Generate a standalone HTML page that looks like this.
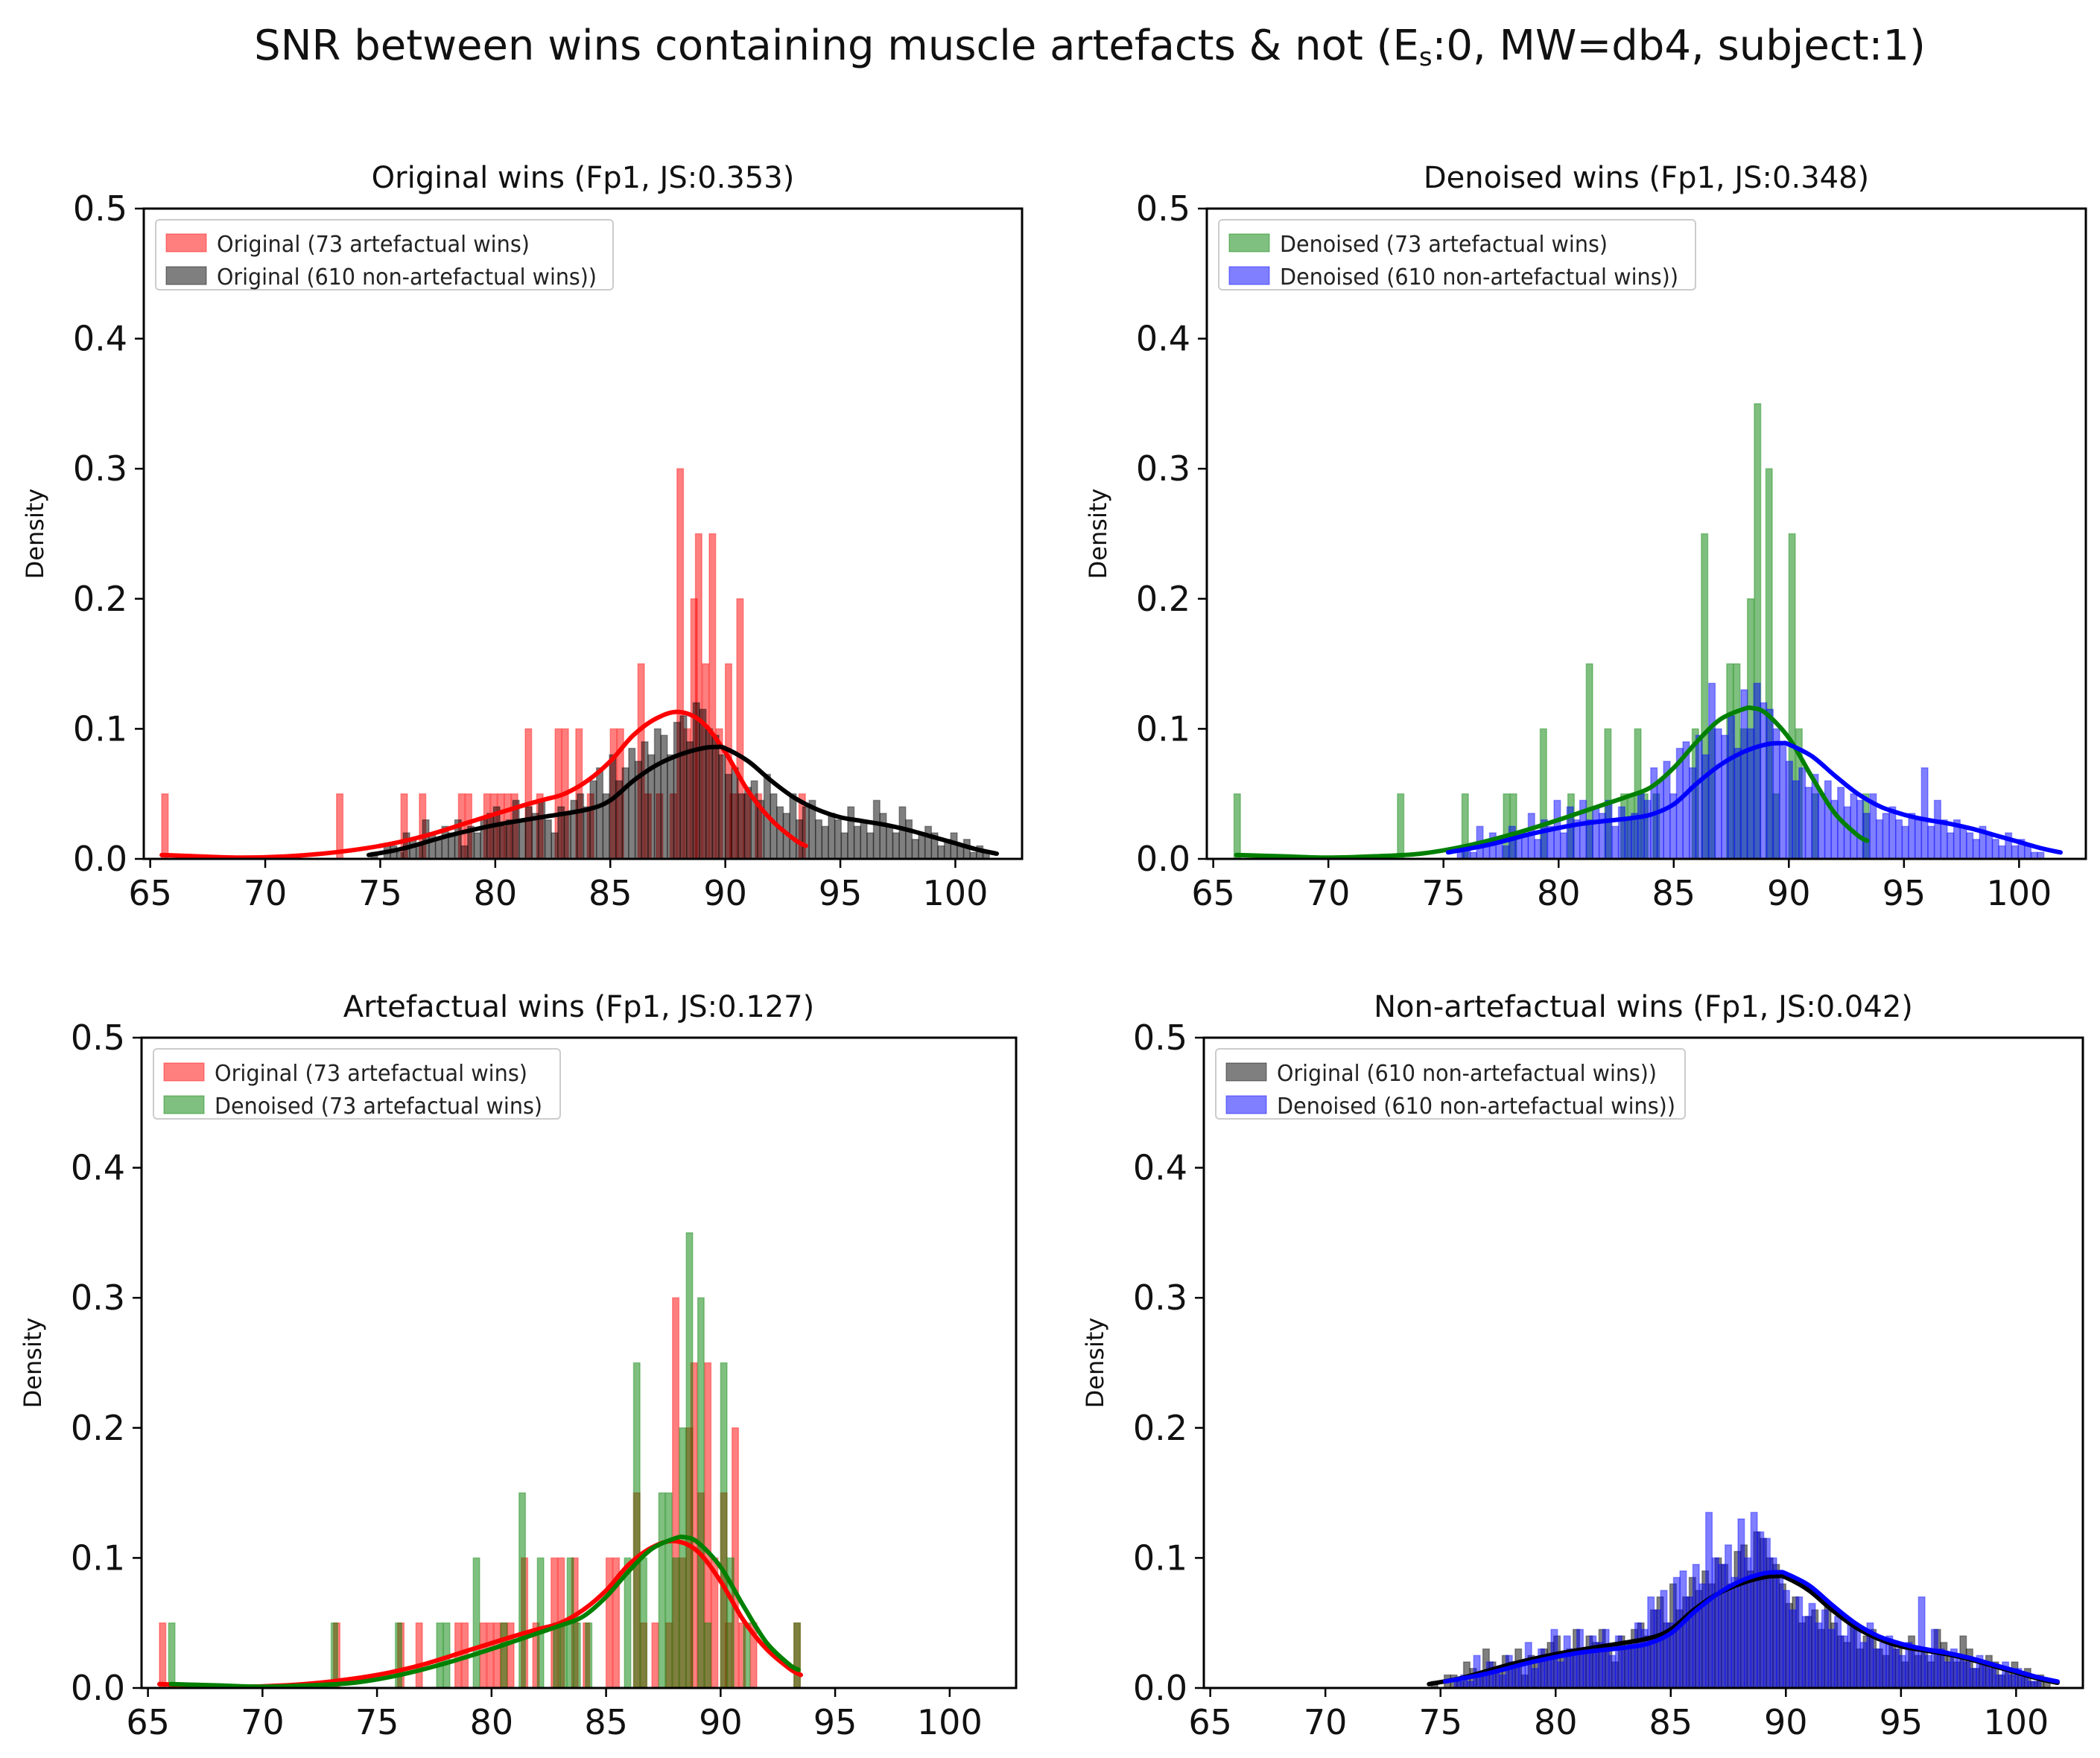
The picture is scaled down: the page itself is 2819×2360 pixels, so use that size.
<!DOCTYPE html>
<html><head><meta charset="utf-8">
<style>
html,body{margin:0;padding:0;background:#fff;}
svg{display:block;font-family:"DejaVu Sans","Liberation Sans",sans-serif;}
</style></head>
<body>
<svg id="fig" width="2819" height="2360" viewBox="0 0 2819 2360" xmlns="http://www.w3.org/2000/svg">
<rect width="2819" height="2360" fill="#fff"/>
<text x="1463" y="80" font-size="56" text-anchor="middle" fill="#111">SNR between wins containing muscle artefacts &amp; not (E<tspan font-size="34" dy="8">s</tspan><tspan dy="-8">:0, MW=db4, subject:1)</tspan></text>
</svg>
<script>
// ---- data ----
const xTicks = [65,70,75,80,85,90,95,100];
const yTicks = [0.0,0.1,0.2,0.3,0.4,0.5];
const binWidth = 0.28;
const origArtX = [65.5,73.1,75.9,76.7,78.4,78.7,79.5,79.8,80.1,80.4,80.7,81.3,81.8,82.6,82.9,83.5,84.0,85.0,85.3,86.2,86.5,87.0,87.6,87.9,88.2,88.5,88.7,89.0,89.3,89.6,90.0,90.2,90.5,90.8,91.3,93.2];
const origArtY = [0.05,0.05,0.05,0.05,0.05,0.05,0.05,0.05,0.05,0.05,0.05,0.1,0.05,0.1,0.1,0.1,0.05,0.1,0.1,0.15,0.05,0.05,0.05,0.3,0.1,0.2,0.25,0.15,0.25,0.1,0.15,0.05,0.2,0.05,0.05,0.05];
const denArtX = [65.9,73.0,75.8,77.6,77.9,79.2,80.4,81.2,82.0,82.7,83.0,83.3,83.6,84.1,85.8,86.2,86.5,87.3,87.6,87.9,88.2,88.5,89.0,89.3,90.0,90.3,91.0,93.2];
const denArtY = [0.05,0.05,0.05,0.05,0.05,0.1,0.05,0.15,0.1,0.05,0.05,0.1,0.05,0.05,0.1,0.25,0.1,0.15,0.15,0.1,0.2,0.35,0.3,0.05,0.25,0.1,0.05,0.05];
const origNonStart = 74.6;
const origNonY = [0.005,0,0.01,0.01,0.005,0.02,0.015,0.01,0.03,0.02,0.015,0.025,0.02,0.03,0.01,0.025,0.02,0.03,0.035,0.04,0.025,0.03,0.045,0.03,0.04,0.035,0.045,0.03,0.02,0.04,0.035,0.045,0.05,0.04,0.06,0.07,0.05,0.08,0.06,0.07,0.085,0.075,0.09,0.08,0.1,0.095,0.08,0.105,0.11,0.09,0.12,0.115,0.1,0.095,0.08,0.065,0.07,0.05,0.055,0.06,0.045,0.065,0.05,0.04,0.035,0.05,0.03,0.04,0.045,0.03,0.025,0.035,0.03,0.02,0.04,0.025,0.03,0.02,0.045,0.035,0.025,0.02,0.04,0.03,0.015,0.02,0.025,0.02,0.01,0.015,0.02,0.01,0.015,0.005,0.01,0.005];
const denNonStart = 75.6;
const denNonY = [0.005,0.01,0.005,0.025,0.01,0.02,0.015,0.01,0.025,0.02,0.02,0.035,0.015,0.03,0.025,0.045,0.02,0.04,0.03,0.045,0.03,0.04,0.035,0.045,0.025,0.04,0.03,0.035,0.05,0.045,0.07,0.06,0.075,0.05,0.085,0.09,0.07,0.095,0.08,0.135,0.1,0.095,0.11,0.085,0.13,0.1,0.135,0.12,0.115,0.1,0.09,0.075,0.06,0.07,0.055,0.065,0.05,0.06,0.045,0.055,0.04,0.05,0.045,0.035,0.05,0.03,0.035,0.04,0.03,0.025,0.035,0.03,0.07,0.025,0.045,0.03,0.02,0.03,0.025,0.02,0.015,0.025,0.02,0.015,0.01,0.02,0.01,0.015,0.01,0.005,0.005];
const redKdeX = [65.5,67,69,71,73,75,77,79,81,82,83,84,85,86,87,88,89,90,91,92,93,93.5];
const redKdeY = [0.003,0.002,0.001,0.002,0.005,0.01,0.018,0.029,0.04,0.045,0.05,0.06,0.075,0.095,0.108,0.113,0.105,0.082,0.052,0.03,0.015,0.01];
const greenKdeX = [66,68,70,72,74,76,78,80,81,82,83,84,85,86,87,88,88.4,89,90,91,92,93,93.4];
const greenKdeY = [0.003,0.002,0.001,0.002,0.004,0.01,0.019,0.03,0.036,0.042,0.048,0.055,0.07,0.09,0.107,0.115,0.116,0.112,0.093,0.063,0.035,0.018,0.014];
const blackKdeX = [74.5,76,78,80,82,84,85,86,87,88,89,89.6,90,91,92,93,94,95,96,97,98,99,100,101,101.8];
const blackKdeY = [0.003,0.008,0.018,0.026,0.032,0.038,0.045,0.06,0.072,0.08,0.085,0.086,0.085,0.075,0.06,0.047,0.038,0.032,0.029,0.026,0.022,0.017,0.012,0.007,0.004];
const blueKdeX = [75.2,77,79,81,83,84,85,86,87,88,89,89.7,90,91,92,93,94,95,96,97,98,99,100,101,101.8];
const blueKdeY = [0.005,0.011,0.02,0.027,0.031,0.034,0.042,0.058,0.072,0.082,0.088,0.089,0.088,0.079,0.064,0.05,0.04,0.034,0.03,0.027,0.023,0.018,0.013,0.008,0.005];

const NS='http://www.w3.org/2000/svg';
const svg=document.getElementById('fig');
function mk(tag,attrs,parent){const e=document.createElementNS(NS,tag);for(const k in attrs)e.setAttribute(k,attrs[k]);(parent||svg).appendChild(e);return e;}

// smooth path through points (Catmull-Rom)
function smooth(pts){
  let d='M'+pts[0][0].toFixed(1)+','+pts[0][1].toFixed(1);
  for(let i=0;i<pts.length-1;i++){
    const p0=pts[Math.max(0,i-1)],p1=pts[i],p2=pts[i+1],p3=pts[Math.min(pts.length-1,i+2)];
    const c1x=p1[0]+(p2[0]-p0[0])/6,c1y=p1[1]+(p2[1]-p0[1])/6;
    const c2x=p2[0]-(p3[0]-p1[0])/6,c2y=p2[1]-(p3[1]-p1[1])/6;
    d+=` C${c1x.toFixed(1)},${c1y.toFixed(1)} ${c2x.toFixed(1)},${c2y.toFixed(1)} ${p2[0].toFixed(1)},${p2[1].toFixed(1)}`;
  }
  return d;
}

function panel(p){
  const g=mk('g',{});
  
  
  const xmin=64.72,xmax=102.9,ymax=0.5;
  const sx=v=>p.L+(v-xmin)/(xmax-xmin)*(p.R-p.L);
  const sy=v=>p.B-v/ymax*(p.B-p.T);
  p.hists.forEach(h=>{
    const hg=mk('g',{},g);
    
    
    const xs=h.x?h.x:h.y.map((_,i)=>h.start+i*binWidth);
    xs.forEach((x,i)=>{
      if(h.y[i]<=0)return;
      const r=mk('rect',{x:sx(x),y:sy(h.y[i]),width:sx(x+binWidth)-sx(x),height:sy(0)-sy(h.y[i]),fill:h.color,'fill-opacity':0.5,stroke:h.color,'stroke-opacity':0.35,'stroke-width':1.5},hg);
      
      
    });
  });
  p.kdes.forEach(k=>{
    const pts=k.x.map((x,i)=>[sx(x),sy(k.y[i])]);
    const pa=mk('path',{d:smooth(pts),fill:'none',stroke:k.color,'stroke-width':6,'stroke-linejoin':'round','stroke-linecap':'round'},g);
    
    
  });
  const fr=mk('rect',{x:p.L,y:p.T,width:p.R-p.L,height:p.B-p.T,fill:'none',stroke:'#000','stroke-width':3},g);
  
  
  xTicks.forEach(t=>{
    const x=sx(t);
    mk('line',{x1:x,x2:x,y1:p.B,y2:p.B+12,stroke:'#000','stroke-width':2.5},g);
    const tx=mk('text',{x:x,y:p.B+62,'font-size':46,'text-anchor':'middle',fill:'#111'},g);
    tx.textContent=String(t);
    
    
  });
  yTicks.forEach(t=>{
    const y=sy(t);
    mk('line',{x1:p.L-12,x2:p.L,y1:y,y2:y,stroke:'#000','stroke-width':2.5},g);
    const tx=mk('text',{x:p.L-22,y:y+16,'font-size':46,'text-anchor':'end',fill:'#111'},g);
    tx.textContent=t.toFixed(1);
    
    
  });
  const yl=mk('text',{x:0,y:0,'font-size':32,'text-anchor':'middle',fill:'#111',transform:`translate(${p.L-135},${(p.T+p.B)/2}) rotate(-90)`},g);
  yl.textContent='Density';
  
  
  const ti=mk('text',{x:(p.L+p.R)/2,y:p.T-28,'font-size':40,'text-anchor':'middle',fill:'#111'},g);
  ti.textContent=p.title;
  
  
  const lg=mk('g',{},g);
  
  
  const lx=p.L+16,ly=p.T+15;
  mk('rect',{x:lx,y:ly,width:p.legW,height:94,rx:5,fill:'#fff','fill-opacity':0.8,stroke:'#ccc','stroke-width':2},lg);
  p.legend.forEach((e,i)=>{
    const yy=ly+15+i*44;
    mk('rect',{x:lx+14,y:yy+4,width:54,height:24,fill:e.color,'fill-opacity':0.5,stroke:e.color,'stroke-opacity':0.5},lg);
    const t=mk('text',{x:lx+82,y:yy+28,'font-size':30,fill:'#222',textLength:e.w,lengthAdjust:'spacingAndGlyphs'},lg);
    t.textContent=e.label;
    
    
  });
}

const R='#ff0000',K='#000000',G='#008000',B='#0000ff';
panel({name:'panel-original',L:193,R:1372,T:280,B:1153,title:'Original wins (Fp1, JS:0.353)',legW:614,
  hists:[{name:'hist-original-artefactual',x:origArtX,y:origArtY,color:R},{name:'hist-original-non-artefactual',start:origNonStart,y:origNonY,color:K}],
  kdes:[{name:'kde-original-artefactual',x:redKdeX,y:redKdeY,color:R},{name:'kde-original-non-artefactual',x:blackKdeX,y:blackKdeY,color:K}],
  legend:[{label:'Original (73 artefactual wins)',color:R,w:420},{label:'Original (610 non-artefactual wins))',color:K,w:510}]});
panel({name:'panel-denoised',L:1620,R:2800,T:280,B:1153,title:'Denoised wins (Fp1, JS:0.348)',legW:640,
  hists:[{name:'hist-denoised-artefactual',x:denArtX,y:denArtY,color:G},{name:'hist-denoised-non-artefactual',start:denNonStart,y:denNonY,color:B}],
  kdes:[{name:'kde-denoised-artefactual',x:greenKdeX,y:greenKdeY,color:G},{name:'kde-denoised-non-artefactual',x:blueKdeX,y:blueKdeY,color:B}],
  legend:[{label:'Denoised (73 artefactual wins)',color:G,w:440},{label:'Denoised (610 non-artefactual wins))',color:B,w:535}]});
panel({name:'panel-artefactual',L:190,R:1364,T:1393,B:2266,title:'Artefactual wins (Fp1, JS:0.127)',legW:546,
  hists:[{name:'hist-original-artefactual',x:origArtX,y:origArtY,color:R},{name:'hist-denoised-artefactual',x:denArtX,y:denArtY,color:G}],
  kdes:[{name:'kde-original-artefactual',x:redKdeX,y:redKdeY,color:R},{name:'kde-denoised-artefactual',x:greenKdeX,y:greenKdeY,color:G}],
  legend:[{label:'Original (73 artefactual wins)',color:R,w:420},{label:'Denoised (73 artefactual wins)',color:G,w:440}]});
panel({name:'panel-non-artefactual',L:1616,R:2796,T:1393,B:2266,title:'Non-artefactual wins (Fp1, JS:0.042)',legW:630,
  hists:[{name:'hist-original-non-artefactual',start:origNonStart,y:origNonY,color:K},{name:'hist-denoised-non-artefactual',start:denNonStart,y:denNonY,color:B}],
  kdes:[{name:'kde-original-non-artefactual',x:blackKdeX,y:blackKdeY,color:K},{name:'kde-denoised-non-artefactual',x:blueKdeX,y:blueKdeY,color:B}],
  legend:[{label:'Original (610 non-artefactual wins))',color:K,w:510},{label:'Denoised (610 non-artefactual wins))',color:B,w:535}]});
</script>
</body></html>
